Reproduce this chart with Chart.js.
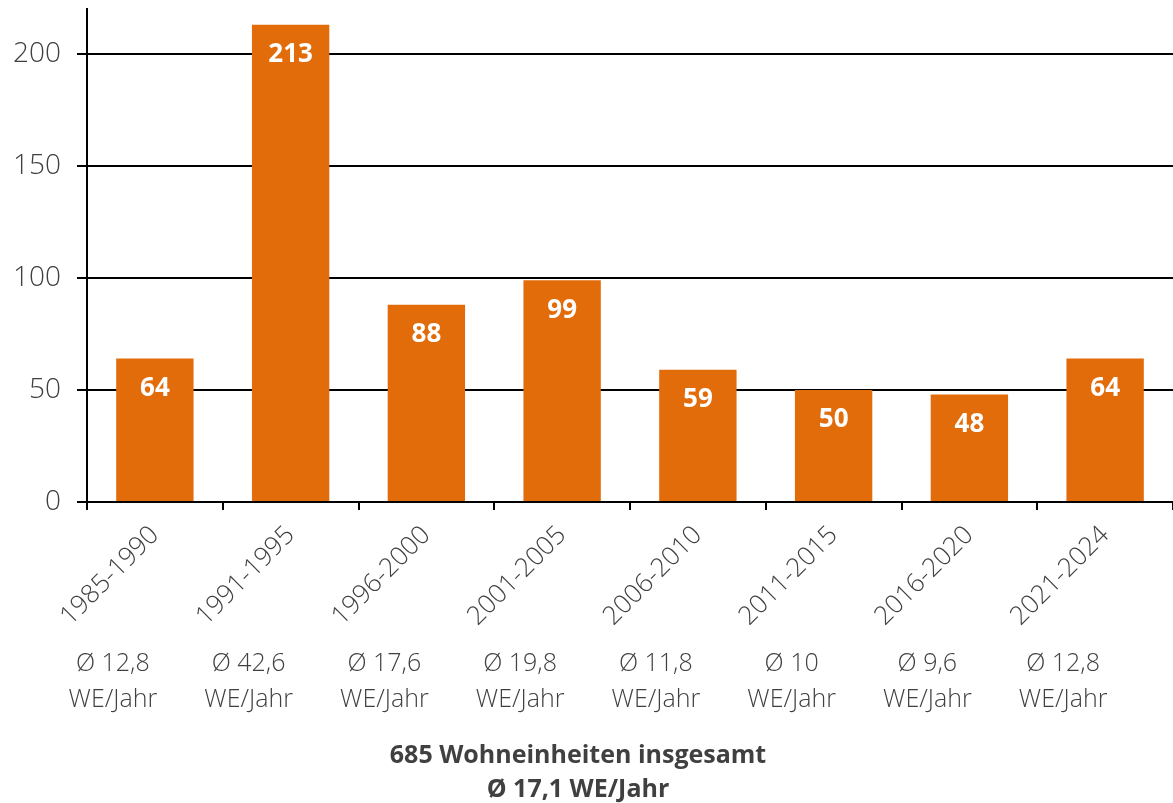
<!DOCTYPE html>
<html>
<head>
<meta charset="utf-8">
<script src="https://cdn.jsdelivr.net/npm/chart.js@4"></script>
<style>
  body { margin: 0; background: #fff; }
</style>
</head>
<body>
<canvas id="canvasChart" width="1173" height="803"></canvas>
<script>
const categories = ['1985-1990', '1991-1995', '1996-2000', '2001-2005', '2006-2010', '2011-2015', '2016-2020', '2021-2024']
const units = [64, 213, 88, 99, 59, 50, 48, 64]
const averages = ['Ø 12,8', 'Ø 42,6', 'Ø 17,6', 'Ø 19,8', 'Ø 11,8', 'Ø 10', 'Ø 9,6', 'Ø 12,8']
const yTicks = [0, 50, 100, 150, 200]
const totalLines = ['685 Wohneinheiten insgesamt', 'Ø 17,1 WE/Jahr']

const FONT = '"Open Sans", Lato, sans-serif'
const TEXT = '#404040'
const ORANGE = '#e36c0a'

// white value inside the top of each bar
const barValues = {
  id: 'barValues',
  afterDatasetsDraw(chart) {
    const ctx = chart.ctx
    const meta = chart.getDatasetMeta(0)
    ctx.save()
    ctx.fillStyle = '#fff'
    ctx.font = `bold 26px ${FONT}`
    ctx.textAlign = 'center'
    ctx.textBaseline = 'middle'
    meta.data.forEach((bar, i) => {
      ctx.fillText(units[i], bar.x, bar.y + 30)
    })
    ctx.restore()
  },
}

// averages under the rotated labels (sitting under the label's lower end) and the total
const footer = {
  id: 'footer',
  afterDraw(chart) {
    const ctx = chart.ctx
    const x = chart.scales.x
    ctx.save()
    ctx.fillStyle = TEXT
    ctx.textAlign = 'center'
    ctx.textBaseline = 'middle'
    ctx.font = `300 25px ${FONT}`
    categories.forEach((c, i) => {
      const px = x.getPixelForValue(i) - 42
      ctx.fillText(averages[i], px, 664)
      ctx.fillText('WE/Jahr', px, 700)
    })
    ctx.font = `bold 25px ${FONT}`
    ctx.fillText(totalLines[0], 578, 756)
    ctx.fillText(totalLines[1], 578, 790)
    ctx.restore()
  },
}

new Chart(document.getElementById('canvasChart'), {
  type: 'bar',
  data: {
    labels: categories,
    datasets: [
      {
        data: units,
        backgroundColor: ORANGE,
        categoryPercentage: 1,
        barPercentage: 0.57,
      },
    ],
  },
  options: {
    responsive: false,
    animation: false,
    layout: { padding: { top: 9, right: 0, left: 0, bottom: 0 } },
    plugins: {
      legend: { display: false },
      tooltip: { enabled: false },
    },
    scales: {
      x: {
        afterFit: (scale) => {
          scale.height = 301
          scale.paddingLeft = 0
          scale.paddingRight = 0
        },
        border: { color: '#000', width: 2 },
        grid: { display: true, drawOnChartArea: false, drawTicks: true, tickLength: 8, color: '#000', lineWidth: 2 },
        ticks: {
          autoSkip: false,
          maxRotation: 45,
          minRotation: 45,
          padding: 10,
          color: TEXT,
          font: { family: FONT, size: 26, weight: 300 },
        },
      },
      y: {
        min: 0,
        max: 220,
        afterFit: (scale) => {
          scale.width = 87
          scale.paddingTop = 0
          scale.paddingBottom = 0
        },
        afterBuildTicks: (scale) => {
          scale.ticks = yTicks.map((v) => ({ value: v }))
        },
        border: { color: '#000', width: 2 },
        grid: { color: '#000', lineWidth: 2, tickLength: 10 },
        ticks: {
          padding: 16,
          color: TEXT,
          font: { family: FONT, size: 28, weight: 300 },
        },
      },
    },
  },
  plugins: [barValues, footer],
})
</script>
</body>
</html>
